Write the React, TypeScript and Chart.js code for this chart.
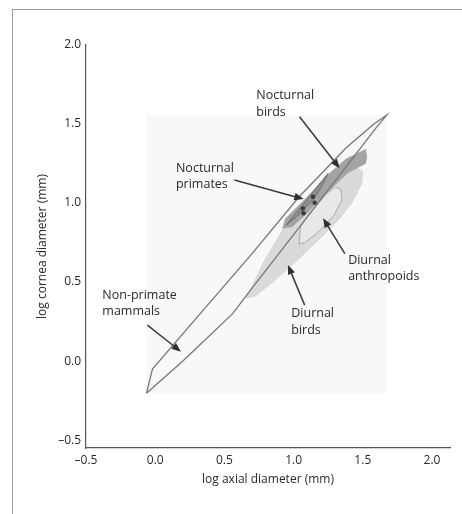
import { useEffect, useRef } from 'react';
import { Chart, registerables } from 'chart.js';

Chart.register(...registerables);

// outlines, in log units [axial, cornea]
const nonPrimateMammals = [
  [-0.063, -0.204], [-0.02, -0.05], [0.316, 0.291], [0.7, 0.68], [1.04, 1.04],
  [1.38, 1.35], [1.58, 1.5], [1.672, 1.555], [1.6, 1.48], [1.38, 1.23],
  [1.0, 0.8], [0.68, 0.44], [0.56, 0.3], [0.2, 0.0], [-0.063, -0.204],
];
const diurnalBirds = [
  [0.657, 0.4], [0.7, 0.47], [0.78, 0.62], [0.92, 0.83], [1.04, 0.97],
  [1.26, 1.165], [1.38, 1.23], [1.45, 1.225], [1.5, 1.2], [1.49, 1.12],
  [1.42, 1.0], [1.33, 0.9], [1.22, 0.8], [1.1, 0.7], [0.98, 0.6],
  [0.85, 0.5], [0.72, 0.41], [0.657, 0.4],
];
const diurnalAnthropoids = [
  [1.04, 0.74], [1.05, 0.85], [1.12, 0.94], [1.24, 1.06], [1.3, 1.1],
  [1.34, 1.09], [1.35, 1.02], [1.29, 0.92], [1.17, 0.81], [1.08, 0.75],
  [1.04, 0.74],
];
const nocturnalBirds = [
  [0.92, 0.84], [0.94, 0.9], [1.1, 1.04], [1.25, 1.18], [1.38, 1.28],
  [1.52, 1.34], [1.53, 1.29], [1.52, 1.25], [1.39, 1.19], [1.21, 1.04],
  [1.09, 0.93], [0.99, 0.85], [0.92, 0.84],
];
const nocturnalPrimates = [
  [0.947, 0.861], [1.249, 1.188], [1.2, 1.1], [1.14, 1.02], [1.02, 0.913],
  [0.947, 0.861],
];
const primateDots = [
  [1.067, 0.966], [1.072, 0.935], [1.14, 1.04], [1.152, 1.002],
];

const xTicks = [-0.5, 0, 0.5, 1, 1.5, 2];
const yTicks = [-0.5, 0, 0.5, 1, 1.5, 2];

// label: left edge x, first line y; arrow: from -> to
const labels = [
  { lines: ['Nocturnal', 'birds'], x: 0.73, y: 1.68, from: [1.043, 1.546], to: [1.333, 1.22] },
  { lines: ['Nocturnal', 'primates'], x: 0.15, y: 1.22, from: [0.572, 1.146], to: [1.072, 1.025] },
  { lines: ['Diurnal', 'anthropoids'], x: 1.394, y: 0.639, from: [1.37, 0.68], to: [1.213, 0.903] },
  { lines: ['Diurnal', 'birds'], x: 0.983, y: 0.3, from: [1.08, 0.354], to: [0.959, 0.608] },
  { lines: ['Non-primate', 'mammals'], x: -0.382, y: 0.418, from: [-0.056, 0.228], to: [0.186, 0.059] },
];

const FONT = "'Open Sans', sans-serif";
const TEXT = '#2a2a2a';
const pts = (a: number[][]) => a.map(([x, y]) => ({ x, y }));

const overlay = {
  id: 'overlay',
  beforeDatasetsDraw(chart: any) {
    const { ctx, scales: { x, y } } = chart;
    const xs = nonPrimateMammals.map((p) => p[0]);
    const ys = nonPrimateMammals.map((p) => p[1]);
    const l = x.getPixelForValue(Math.min(...xs));
    const r = x.getPixelForValue(Math.max(...xs));
    const t = y.getPixelForValue(Math.max(...ys));
    const b = y.getPixelForValue(Math.min(...ys));
    ctx.save();
    ctx.fillStyle = '#f8f8f8';
    ctx.fillRect(l, t, r - l, b - t);
    ctx.restore();
  },
  afterDatasetsDraw(chart: any) {
    const { ctx, scales: { x, y } } = chart;
    ctx.save();
    labels.forEach((lb) => {
      ctx.fillStyle = TEXT;
      ctx.font = `12.5px ${FONT}`;
      ctx.textAlign = 'left';
      ctx.textBaseline = 'middle';
      const px = x.getPixelForValue(lb.x);
      const py = y.getPixelForValue(lb.y);
      lb.lines.forEach((s, i) => ctx.fillText(s, px, py + i * 16.5));

      const x1 = x.getPixelForValue(lb.from[0]);
      const y1 = y.getPixelForValue(lb.from[1]);
      const x2 = x.getPixelForValue(lb.to[0]);
      const y2 = y.getPixelForValue(lb.to[1]);
      const ang = Math.atan2(y2 - y1, x2 - x1);
      const head = 10;
      ctx.strokeStyle = '#3a3a3a';
      ctx.lineWidth = 1.5;
      ctx.beginPath();
      ctx.moveTo(x1, y1);
      ctx.lineTo(x2 - Math.cos(ang) * head * 0.8, y2 - Math.sin(ang) * head * 0.8);
      ctx.stroke();
      ctx.fillStyle = '#2e2e2e';
      ctx.beginPath();
      ctx.moveTo(x2, y2);
      ctx.lineTo(x2 - head * Math.cos(ang - 0.38), y2 - head * Math.sin(ang - 0.38));
      ctx.lineTo(x2 - head * Math.cos(ang + 0.38), y2 - head * Math.sin(ang + 0.38));
      ctx.closePath();
      ctx.fill();
    });
    ctx.restore();
  },
};

const fmt = (v: number) => (v < 0 ? '\u2013' + Math.abs(v).toFixed(1) : v.toFixed(1));

export default function App() {
  const canvasRef = useRef<HTMLCanvasElement>(null);

  useEffect(() => {
    if (!canvasRef.current) return;
    const shape = (data: number[][], fill: string, stroke: string, width: number) => ({
      data: pts(data),
      showLine: true,
      fill: 'shape',
      backgroundColor: fill,
      borderColor: stroke,
      borderWidth: width,
      pointRadius: 0,
      tension: 0,
    });
    const chart = new Chart(canvasRef.current, {
      type: 'scatter',
      data: {
        // first dataset is drawn on top
        datasets: [
          {
            data: pts(primateDots),
            pointRadius: 2.2,
            backgroundColor: '#3a3a3a',
            borderWidth: 0,
          },
          shape(nonPrimateMammals, 'rgba(0,0,0,0)', '#777', 1.3),
          shape(nocturnalPrimates, '#8e8e8e', '#6e6e6e', 1),
          shape(nocturnalBirds, '#a3a3a3', '#a3a3a3', 0.5),
          shape(diurnalAnthropoids, '#e8e8e8', '#ababab', 1),
          shape(diurnalBirds, '#dadada', '#d2d2d2', 0.8),
        ] as any,
      },
      options: {
        animation: false,
        responsive: true,
        maintainAspectRatio: false,
        layout: { padding: { top: 45, right: 12, left: 0, bottom: 0 } },
        plugins: { legend: { display: false }, tooltip: { enabled: false } },
        scales: {
          x: {
            type: 'linear',
            min: -0.5,
            max: 2.13,
            afterBuildTicks: (s: any) => { s.ticks = xTicks.map((value) => ({ value })); },
            afterFit: (s: any) => { s.height = 66; },
            grid: { display: false, drawTicks: false },
            border: { display: true, color: '#555', width: 1.2 },
            ticks: { color: TEXT, font: { family: FONT, size: 12 }, padding: 5, callback: (v: any) => fmt(Number(v)) },
            title: {
              display: true,
              text: 'log axial diameter (mm)',
              color: TEXT,
              font: { family: FONT, size: 12 },
              padding: { top: 0, bottom: 27 },
            },
          },
          y: {
            type: 'linear',
            min: -0.55,
            max: 2.0,
            afterBuildTicks: (s: any) => { s.ticks = yTicks.map((value) => ({ value })); },
            afterFit: (s: any) => { s.width = 86; },
            grid: { display: false, drawTicks: false },
            border: { display: true, color: '#555', width: 1.2 },
            ticks: { color: TEXT, font: { family: FONT, size: 12 }, padding: 5, callback: (v: any) => fmt(Number(v)) },
            title: {
              display: true,
              text: 'log cornea diameter (mm)',
              color: TEXT,
              font: { family: FONT, size: 12 },
              padding: { top: 35, bottom: 0 },
            },
          },
        },
      },
      plugins: [overlay],
    });
    return () => chart.destroy();
  }, []);

  return (
    <div style={{ position: 'fixed', left: 0, top: 0, width: 462, height: 514, background: '#fff' }}>
      <div
        style={{
          position: 'absolute', left: 12, top: 9, width: 450, height: 505,
          borderLeft: '1px solid #9a9a9a', borderTop: '1px solid #9a9a9a',
        }}
      />
      <div style={{ position: 'absolute', left: 0, top: 0, width: 462, height: 514 }}>
        <canvas ref={canvasRef} />
      </div>
    </div>
  );
}
